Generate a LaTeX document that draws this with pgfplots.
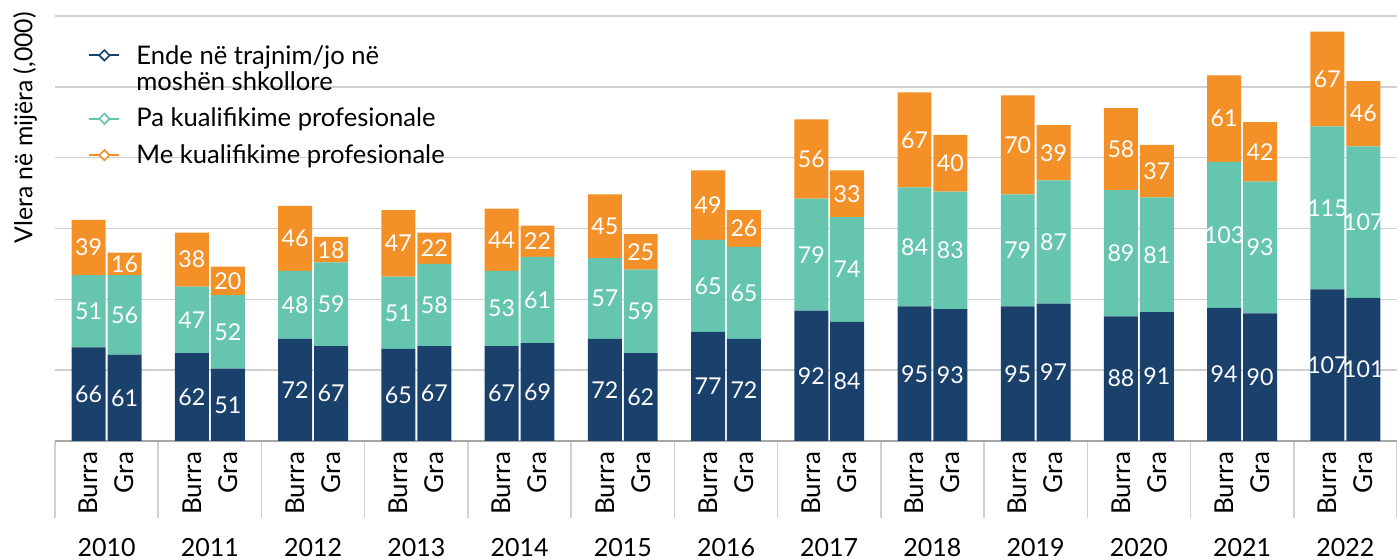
\documentclass[border=0pt]{standalone}
\usepackage{pgfplots}
\usepackage{pgfplotstable}
\pgfplotsset{compat=1.18}
\usepackage{fontspec}
\setmainfont{Lato}
\definecolor{cnavy}{HTML}{1A406C}
\definecolor{cteal}{HTML}{65C5AE}
\definecolor{corange}{HTML}{F39128}
\definecolor{cgrid}{HTML}{D0D0D0}

\pgfplotstableread{
x ende pa me
-0.174 66 51 39
0.174 61 56 16
0.826 62 47 38
1.174 51 52 20
1.826 72 48 46
2.174 67 59 18
2.826 65 51 47
3.174 67 58 22
3.826 67 53 44
4.174 69 61 22
4.826 72 57 45
5.174 62 59 25
5.826 77 65 49
6.174 72 65 26
6.826 92 79 56
7.174 84 74 33
7.826 95 84 67
8.174 93 83 40
8.826 95 79 70
9.174 97 87 39
9.826 88 89 58
10.174 91 81 37
10.826 94 103 61
11.174 90 93 42
11.826 107 115 67
12.174 101 107 46
}\datatable

\newcommand{\legimg}[2]{\path (0pt,0pt) (21.5pt,0pt);
  \draw[#1, line width=1pt] (0pt,#2) -- (15pt,#2);
  \draw[#1, line width=0.8pt, fill=white] (7.5pt,#2-2.6pt) -- (10.1pt,#2) -- (7.5pt,#2+2.6pt) -- (4.9pt,#2) -- cycle;}

\begin{document}
\begin{tikzpicture}
\begin{axis}[
  name=ax,
  scale only axis,
  width=671pt, height=212.5pt,
  ybar stacked,
  bar width=0.329,
  xmin=-0.5, xmax=12.5,
  ymin=0, ymax=300,
  clip=false,
  ytick={0,50,...,300},
  yticklabels={},
  ymajorgrids,
  grid style={draw=cgrid, line width=0.75pt},
  axis x line=bottom,
  axis y line=left,
  y axis line style={draw=none},
  x axis line style={draw=black!35, line width=0.75pt, -},
  ytick style={draw=none},
  xtick={-0.5,0.5,...,12.5},
  xticklabels={},
  major tick length=38.5pt,
  tick align=outside,
  xtick style={draw=cgrid, line width=0.75pt},
  extra x ticks={-0.174,0.174,0.826,1.174,1.826,2.174,2.826,3.174,3.826,4.174,4.826,5.174,5.826,6.174,6.826,7.174,7.826,8.174,8.826,9.174,9.826,10.174,10.826,11.174,11.826,12.174},
  extra x tick labels={Burra,Gra,Burra,Gra,Burra,Gra,Burra,Gra,Burra,Gra,Burra,Gra,Burra,Gra,Burra,Gra,Burra,Gra,Burra,Gra,Burra,Gra,Burra,Gra,Burra,Gra},
  extra x tick style={major tick length=0pt, xticklabel style={rotate=90, anchor=east, font=\fontsize{13}{15}\selectfont}},
  xticklabel shift=2pt,
  /pgf/number format/assume math mode=true,
  nodes near coords,
  every node near coord/.append style={anchor=center, text=white, font=\fontsize{11.6}{13}\selectfont},
  legend style={at={(rel axis cs:0,1)}, anchor=north west, draw=none, fill=none, xshift=13.5pt, yshift=-10.5pt, font=\fontsize{12.8}{13}\selectfont, row sep=3.3pt, cells={align=left}},
  legend cell align=left,
]
\addplot[fill=cnavy, draw=none, point meta=\thisrow{ende}, legend image code/.code={\legimg{cnavy}{7pt}}] table[x=x, y=ende] {\datatable};
\addplot[fill=cteal, draw=none, point meta=\thisrow{pa}, legend image code/.code={\legimg{cteal}{0pt}}] table[x=x, y=pa] {\datatable};
\addplot[fill=corange, draw=none, point meta=\thisrow{me}, legend image code/.code={\legimg{corange}{0pt}}] table[x=x, y=me] {\datatable};
\legend{Ende në trajnim/jo në\\moshën shkollore\rule[-4pt]{0pt}{1pt}, Pa kualifikime profesionale, Me kualifikime profesionale}
\node[font=\fontsize{12.5}{14}\selectfont] at ([yshift=-53.5pt]axis cs:0,0) {2010};
\node[font=\fontsize{12.5}{14}\selectfont] at ([yshift=-53.5pt]axis cs:1,0) {2011};
\node[font=\fontsize{12.5}{14}\selectfont] at ([yshift=-53.5pt]axis cs:2,0) {2012};
\node[font=\fontsize{12.5}{14}\selectfont] at ([yshift=-53.5pt]axis cs:3,0) {2013};
\node[font=\fontsize{12.5}{14}\selectfont] at ([yshift=-53.5pt]axis cs:4,0) {2014};
\node[font=\fontsize{12.5}{14}\selectfont] at ([yshift=-53.5pt]axis cs:5,0) {2015};
\node[font=\fontsize{12.5}{14}\selectfont] at ([yshift=-53.5pt]axis cs:6,0) {2016};
\node[font=\fontsize{12.5}{14}\selectfont] at ([yshift=-53.5pt]axis cs:7,0) {2017};
\node[font=\fontsize{12.5}{14}\selectfont] at ([yshift=-53.5pt]axis cs:8,0) {2018};
\node[font=\fontsize{12.5}{14}\selectfont] at ([yshift=-53.5pt]axis cs:9,0) {2019};
\node[font=\fontsize{12.5}{14}\selectfont] at ([yshift=-53.5pt]axis cs:10,0) {2020};
\node[font=\fontsize{12.5}{14}\selectfont] at ([yshift=-53.5pt]axis cs:11,0) {2021};
\node[font=\fontsize{12.5}{14}\selectfont] at ([yshift=-53.5pt]axis cs:12,0) {2022};
\end{axis}
\node[rotate=90, anchor=east, font=\fontsize{12.4}{14}\selectfont] at ([xshift=-15pt, yshift=5.5pt]ax.north west) {Vlera në mijëra (,000)};
\pgfresetboundingbox
\path[use as bounding box] ([xshift=-27.5pt,yshift=-59.5pt]ax.south west) rectangle ([yshift=8pt]ax.north east);
\end{tikzpicture}
\end{document}
